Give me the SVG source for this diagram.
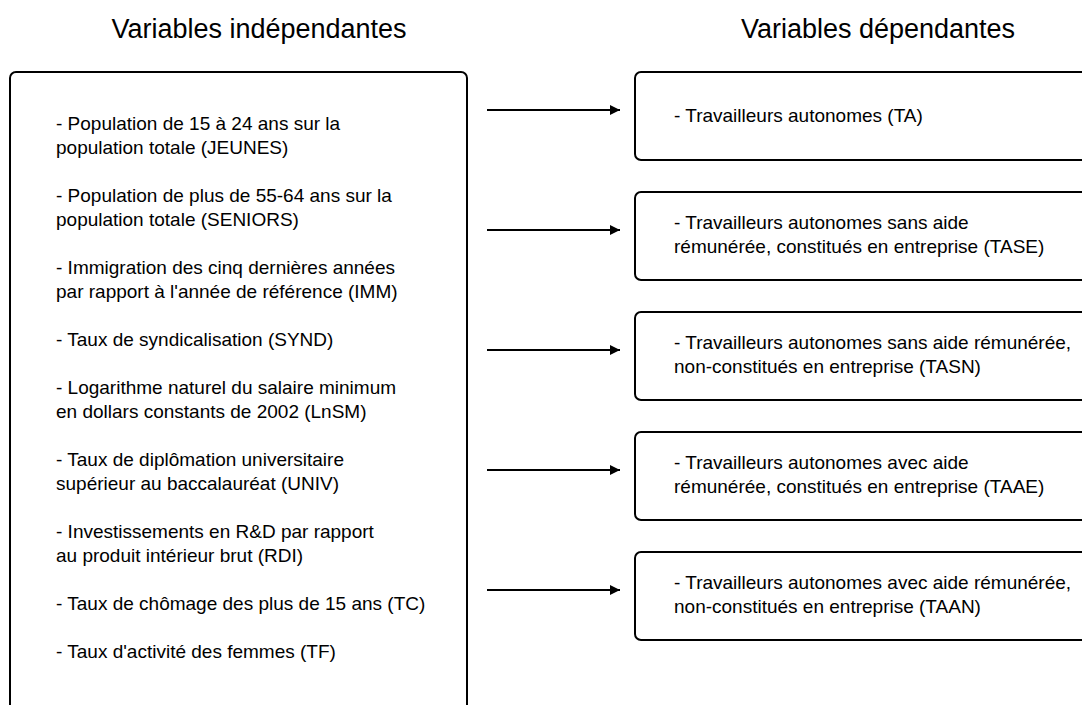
<svg xmlns="http://www.w3.org/2000/svg" width="1082" height="705" viewBox="0 0 1082 705">
  <style>
    .title { font-family: "Liberation Sans", Arial, sans-serif; font-size: 27px; fill: #000; text-anchor: middle; }
    .txt { font-family: "Liberation Sans", Arial, sans-serif; font-size: 19px; fill: #000; }
    .box { fill: #fff; stroke: #000; stroke-width: 2; }
    .conn { stroke: #000; stroke-width: 2; fill: none; }
  </style>
  <defs>
    <marker id="arrow" viewBox="0 0 10 10" refX="10" refY="5" markerWidth="6.5" markerHeight="5" markerUnits="strokeWidth" orient="auto">
      <path d="M0,0 L10,5 L0,10 z" fill="#000"/>
    </marker>
  </defs>
  <rect width="1082" height="705" fill="#fff"/>

  <text class="title" x="259" y="38">Variables indépendantes</text>
  <text class="title" x="878" y="38">Variables dépendantes</text>

  <g id="independantes">
    <rect class="box" x="10" y="72" width="457" height="660" rx="6" ry="6"/>
    <text class="txt" x="56" y="130">- Population de 15 à 24 ans sur la</text>
    <text class="txt" x="56" y="154">population totale (JEUNES)</text>
    <text class="txt" x="56" y="202">- Population de plus de 55-64 ans sur la</text>
    <text class="txt" x="56" y="226">population totale (SENIORS)</text>
    <text class="txt" x="56" y="274">- Immigration des cinq dernières années</text>
    <text class="txt" x="56" y="298">par rapport à l'année de référence (IMM)</text>
    <text class="txt" x="56" y="346">- Taux de syndicalisation (SYND)</text>
    <text class="txt" x="56" y="394">- Logarithme naturel du salaire minimum</text>
    <text class="txt" x="56" y="418">en dollars constants de 2002 (LnSM)</text>
    <text class="txt" x="56" y="466">- Taux de diplômation universitaire</text>
    <text class="txt" x="56" y="490">supérieur au baccalauréat (UNIV)</text>
    <text class="txt" x="56" y="538">- Investissements en R&amp;D par rapport</text>
    <text class="txt" x="56" y="562">au produit intérieur brut (RDI)</text>
    <text class="txt" x="56" y="610">- Taux de chômage des plus de 15 ans (TC)</text>
    <text class="txt" x="56" y="658">- Taux d'activité des femmes (TF)</text>
  </g>

  <g id="ta">
    <rect class="box" x="635" y="72" width="470" height="88" rx="6" ry="6"/>
    <text class="txt" x="674" y="122">- Travailleurs autonomes (TA)</text>
  </g>
  <g id="tase">
    <rect class="box" x="635" y="192" width="470" height="88" rx="6" ry="6"/>
    <text class="txt" x="674" y="229">- Travailleurs autonomes sans aide</text>
    <text class="txt" x="674" y="253">rémunérée, constitués en entreprise (TASE)</text>
  </g>
  <g id="tasn">
    <rect class="box" x="635" y="312" width="470" height="88" rx="6" ry="6"/>
    <text class="txt" x="674" y="349">- Travailleurs autonomes sans aide rémunérée,</text>
    <text class="txt" x="674" y="373">non-constitués en entreprise (TASN)</text>
  </g>
  <g id="taae">
    <rect class="box" x="635" y="432" width="470" height="88" rx="6" ry="6"/>
    <text class="txt" x="674" y="469">- Travailleurs autonomes avec aide</text>
    <text class="txt" x="674" y="493">rémunérée, constitués en entreprise (TAAE)</text>
  </g>
  <g id="taan">
    <rect class="box" x="635" y="552" width="470" height="88" rx="6" ry="6"/>
    <text class="txt" x="674" y="589">- Travailleurs autonomes avec aide rémunérée,</text>
    <text class="txt" x="674" y="613">non-constitués en entreprise (TAAN)</text>
  </g>

  <g id="connectors">
    <line class="conn" x1="487" y1="110" x2="620" y2="110" marker-end="url(#arrow)"/>
    <line class="conn" x1="487" y1="230" x2="620" y2="230" marker-end="url(#arrow)"/>
    <line class="conn" x1="487" y1="350" x2="620" y2="350" marker-end="url(#arrow)"/>
    <line class="conn" x1="487" y1="470" x2="620" y2="470" marker-end="url(#arrow)"/>
    <line class="conn" x1="487" y1="590" x2="620" y2="590" marker-end="url(#arrow)"/>
  </g>
</svg>
